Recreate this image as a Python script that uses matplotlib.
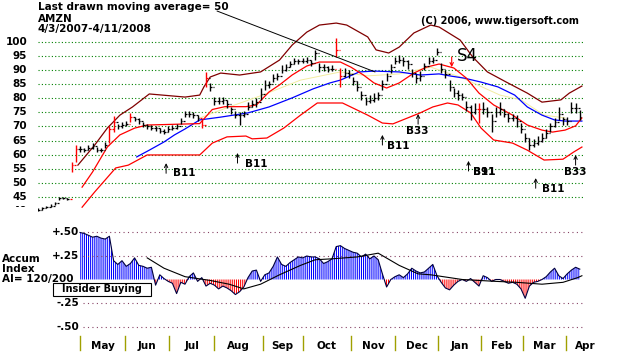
import matplotlib
matplotlib.use('Agg')
import matplotlib.pyplot as plt
from matplotlib.patches import Rectangle
import numpy as np

plt.rcParams['font.family'] = 'DejaVu Sans'
plt.rcParams['hatch.linewidth'] = 0.75

# ---- price bars: one bar every second trading day from 4/3/2007 ----
bar_day = list(range(0, 260, 2))
bar_close = [40.5, 41.0, 41.5, 42.0, 42.8, 44.5, 44.6, 44.2, 56.5, 62.0,
             62.0, 61.5, 62.5, 63.0, 61.8, 61.5, 63.5, 69.0, 71.5, 70.0,
             70.5, 71.0, 73.5, 72.5, 72.0, 70.5, 70.0, 69.5, 69.5, 68.5,
             68.0, 69.0, 69.5, 70.0, 72.0, 74.5, 74.5, 74.0, 73.0, 70.5,
             87.0, 84.0, 79.0, 79.0, 79.5, 78.0, 76.0, 74.0, 74.0, 74.5,
             77.0, 78.0, 78.5, 81.5, 84.5, 85.0, 87.0, 88.0, 90.0, 91.0,
             92.0, 93.0, 93.0, 93.0, 93.5, 92.5, 96.0, 91.0, 91.0, 90.5,
             90.5, 97.0, 88.0, 89.0, 88.5, 86.0, 84.0, 81.0, 79.0, 79.5,
             80.0, 81.0, 85.0, 88.0, 91.0, 93.0, 93.5, 93.0, 92.0, 89.0,
             87.0, 88.0, 91.5, 93.0, 93.5, 96.5, 90.5, 88.5, 84.0, 82.0,
             81.0, 80.5, 77.0, 75.0, 76.0, 76.0, 76.0, 75.0, 72.0, 75.0,
             76.0, 74.5, 73.0, 73.0, 72.0, 69.0, 66.0, 63.5, 64.0, 65.0,
             66.0, 67.5, 70.0, 71.5, 74.5, 72.5, 72.0, 76.5, 76.5, 73.5]
bar_high = [41.2, 41.5, 42.0, 42.5, 43.2, 45.0, 45.0, 44.7, 57.5, 63.4,
            63.0, 62.5, 63.5, 64.0, 62.8, 62.5, 64.5, 70.0, 73.7, 71.0,
            71.5, 72.0, 74.7, 73.5, 73.0, 71.5, 71.0, 70.5, 70.3, 69.5,
            69.0, 70.0, 70.5, 71.0, 73.0, 75.5, 75.3, 75.0, 74.0, 72.3,
            89.4, 85.5, 80.5, 80.4, 80.5, 79.4, 77.0, 75.5, 75.0, 75.5,
            78.6, 79.5, 80.0, 83.6, 86.4, 86.0, 88.5, 89.0, 91.7, 92.0,
            93.0, 94.2, 94.0, 94.2, 94.5, 93.5, 97.0, 92.4, 92.0, 91.5,
            91.8, 101.3, 90.7, 90.7, 90.0, 87.5, 86.0, 82.5, 80.5, 81.0,
            81.8, 82.2, 86.5, 89.0, 92.0, 94.5, 95.3, 94.6, 93.5, 90.5,
            88.5, 89.5, 92.5, 94.6, 94.5, 97.7, 92.4, 90.0, 86.4, 83.5,
            82.9, 81.8, 79.0, 77.5, 78.3, 78.3, 78.6, 76.8, 74.5, 76.8,
            78.6, 76.0, 74.8, 74.5, 74.0, 71.2, 67.7, 66.0, 65.5, 66.5,
            67.7, 69.0, 71.2, 73.0, 76.8, 73.5, 73.3, 78.6, 78.3, 75.8]
bar_low = [40.0, 40.5, 41.0, 41.5, 42.3, 43.8, 44.2, 43.8, 54.0, 57.5,
           61.0, 60.8, 61.5, 62.0, 61.0, 60.8, 62.5, 64.0, 68.0, 69.0,
           69.5, 70.0, 71.5, 71.8, 71.0, 69.8, 69.0, 68.8, 68.5, 67.8,
           67.3, 68.2, 68.8, 69.2, 71.0, 73.5, 73.5, 73.0, 72.0, 69.5,
           84.0, 82.5, 77.5, 77.8, 78.0, 76.5, 74.5, 73.0, 70.5, 73.3,
           75.8, 77.0, 77.0, 79.5, 83.0, 83.5, 85.7, 86.5, 89.0, 89.5,
           91.0, 92.0, 92.0, 92.4, 92.5, 91.5, 93.5, 89.3, 89.5, 89.3,
           89.5, 94.6, 84.0, 87.5, 87.0, 84.5, 82.5, 79.5, 77.6, 78.3,
           78.6, 79.5, 83.0, 86.0, 89.0, 92.0, 92.5, 91.5, 90.5, 87.5,
           85.4, 86.0, 90.0, 92.0, 92.5, 95.3, 89.0, 87.1, 82.5, 80.4,
           79.4, 79.4, 75.5, 72.3, 74.5, 71.2, 74.5, 73.3, 68.0, 73.3,
           74.0, 73.3, 71.6, 71.8, 69.8, 67.7, 64.5, 61.6, 62.8, 63.5,
           64.5, 65.9, 68.0, 69.8, 72.3, 70.5, 70.5, 74.8, 74.8, 72.3]
red_bar_days = [16, 18, 34, 36, 44, 78, 80, 142, 144, 210]

# ---- bands and moving averages ----
maroon_day = [19, 27, 33, 39, 45, 53, 70, 77, 79, 82, 87, 96, 106, 115, 121,
              128, 134, 142, 147, 157, 161, 167, 172, 179, 187, 191, 201, 207,
              214, 223, 233, 240, 249, 253, 259]
maroon_val = [56.3, 63.4, 69.4, 74.0, 76.9, 81.5, 80.4, 81.1, 84.0, 87.5, 88.9,
              88.2, 89.3, 93.5, 98.8, 103.4, 105.9, 106.6, 105.9, 101.7, 97.1,
              96.0, 98.1, 103.1, 105.9, 105.2, 100.6, 94.6, 89.3, 85.7, 81.8,
              78.6, 79.4, 81.8, 84.3]
red_a_day = [21, 26, 33, 39, 46, 52, 77, 83, 89, 99, 104, 110, 115, 121, 128,
             134, 144, 149, 155, 160, 166, 172, 179, 185, 191, 198, 204, 210,
             217, 226, 233, 240, 245, 251, 256, 259]
red_a_val = [48.5, 53.9, 62.7, 67.0, 69.4, 70.5, 71.0, 76.0, 77.0, 77.0, 77.6,
             82.2, 84.7, 88.2, 91.4, 92.8, 92.8, 91.0, 88.2, 85.4, 83.6, 85.4,
             88.9, 91.0, 92.1, 90.7, 87.1, 81.8, 77.6, 74.0, 70.5, 68.7, 68.0,
             68.7, 70.2, 73.0]
red_b_day = [21, 27, 37, 43, 52, 77, 83, 90, 99, 102, 109, 117, 125, 133, 145,
             157, 164, 169, 177, 182, 188, 195, 200, 206, 211, 217, 226, 233,
             241, 250, 255, 259]
red_b_val = [41.4, 46.8, 55.3, 56.3, 59.9, 59.9, 64.1, 66.3, 66.6, 65.6, 65.9,
             69.4, 74.0, 78.3, 78.3, 74.0, 71.2, 70.9, 73.3, 74.8, 76.9, 78.3,
             77.6, 74.8, 69.4, 65.2, 64.1, 61.6, 58.1, 58.4, 60.9, 62.7]
ma50_day = [47, 53, 60, 65, 70, 77, 87, 100, 110, 121, 131, 139, 144, 153, 160,
            172, 182, 191, 196, 203, 211, 219, 227, 233, 240, 246, 251, 259]
ma50_val = [59.2, 61.6, 64.5, 67.0, 69.1, 72.3, 73.3, 74.8, 76.9, 80.1, 83.3,
            85.4, 86.4, 89.3, 89.6, 89.3, 88.2, 88.6, 87.9, 87.1, 85.7, 84.0,
            81.1, 76.9, 74.0, 72.3, 71.9, 71.9]
yellow_day = [77, 91, 107, 125, 144, 157, 172, 187, 201, 220, 230, 241, 251]
yellow_val = [73.0, 76.9, 81.1, 86.4, 89.3, 87.9, 88.6, 91.0, 87.5, 81.1, 79.4,
              74.0, 73.0]

# ---- buy / sell signals ----
sig_day = [61, 95, 164, 181, 205, 237, 256]
sig_top = [57.0, 60.6, 67.0, 74.4, 57.8, 51.7, 59.9]
sig_label = ['B11', 'B11', 'B11', 'B33', 'B91', 'B11', 'B33']
sig_text_off = [(7, -10), (7, -11), (5, -11), (-12, -17), (5, -11), (6, -11), (-12, -17)]

# ---- accumulation index ----
ai_day = list(range(20, 260, 2))
ai_val = [0.50, 0.49, 0.47, 0.45, 0.46, 0.44, 0.43, 0.46, 0.20, 0.16,
          0.20, 0.14, 0.17, 0.23, 0.15, 0.14, 0.12, 0.13, -0.06, 0.05,
          0.01, -0.02, -0.04, -0.15, -0.03, -0.05, 0.03, 0.07, -0.02, 0.02,
          -0.07, -0.04, -0.06, -0.10, -0.07, -0.09, -0.12, -0.16, -0.13, -0.08,
          0.02, 0.09, 0.10, -0.02, 0.05, 0.07, 0.14, 0.24, 0.16, 0.14,
          0.18, 0.21, 0.24, 0.23, 0.25, 0.24, 0.24, 0.22, 0.17, 0.19,
          0.22, 0.35, 0.36, 0.33, 0.31, 0.29, 0.28, 0.24, 0.27, 0.22,
          0.25, 0.21, 0.06, -0.08, 0.00, 0.03, 0.05, 0.02, 0.06, 0.12,
          0.09, 0.07, 0.08, 0.12, 0.16, 0.04, -0.03, -0.09, -0.11, -0.06,
          -0.02, 0.00, -0.02, 0.01, -0.03, -0.07, 0.04, 0.02, -0.02, 0.00,
          0.00, -0.02, -0.04, -0.03, -0.05, -0.10, -0.20, -0.07, -0.03, -0.02,
          0.00, 0.03, 0.08, 0.12, 0.04, 0.01, 0.06, 0.10, 0.13, 0.11]
ai_ma_day = [52, 60, 70, 82, 91, 98, 106, 115, 125, 132, 140, 152, 162, 172,
             181, 187, 202, 218, 228, 240, 250, 257, 259]
ai_ma_val = [0.23, 0.12, 0.03, -0.01, -0.05, -0.10, -0.05, 0.05, 0.15, 0.21,
             0.22, 0.24, 0.28, 0.15, 0.06, 0.05, 0.00, -0.02, -0.03, -0.05,
             -0.03, 0.02, 0.04]

price_levels = [100, 95, 90, 85, 80, 75, 70, 65, 60, 55, 50, 45, 40]
ai_levels = [0.5, 0.25, -0.25, -0.5]
ai_level_labels = ['+.50', '+.25', '-.25', '-.50']
month_tick_day = [20, 41.5, 62.5, 84, 107, 126, 149, 170, 190.5, 211, 231, 251.5]
month_names = ['May', 'Jun', 'Jul', 'Aug', 'Sep', 'Oct', 'Nov', 'Dec',
               'Jan', 'Feb', 'Mar', 'Apr']

W, H = 631, 354
BOLD = dict(fontweight='bold', color='black')

fig = plt.figure(figsize=(W / 100, H / 100), dpi=100, facecolor='white')

ax = fig.add_axes([38 / W, 1 - 212 / H, 546 / W, 212 / H])
ax.set_xlim(0, 260)
ax.set_ylim(39.7, 114.77)
ax.axis('off')

ax.hlines(price_levels[:-1], 0, 259.5, colors='#008000',
          linestyles=(0, (1, 2)), lw=0.8, zorder=1)
for lvl in price_levels:
    ax.text(-5.2, lvl, str(lvl), ha='right', va='center', fontsize=7.5,
            clip_on=False, **BOLD)

# bands
ax.plot(maroon_day, maroon_val, color='#800000', lw=0.9, zorder=2)
ax.plot(yellow_day, yellow_val, color='#f2eca0', lw=0.7, zorder=2)
ax.plot(ma50_day, ma50_val, color='#0000ff', lw=0.9, zorder=2)
ax.plot(red_a_day, red_a_val, color='#ff0000', lw=0.9, zorder=2)
ax.plot(red_b_day, red_b_val, color='#ff0000', lw=0.9, zorder=2)

# price bars
cols = ['#ff0000' if d in red_bar_days else 'black' for d in bar_day]
opens = [bar_close[0]] + bar_close[:-1]
days = np.array(bar_day, dtype=float)
ax.vlines(days, bar_low, bar_high, colors=cols, lw=1.0, zorder=3)
ax.hlines(bar_close, days, days + 0.8, colors=cols, lw=0.9, zorder=3)
ax.hlines(opens, days - 0.8, days, colors=cols, lw=0.9, zorder=3)

# signals
for d, top, lab, off in zip(sig_day, sig_top, sig_label, sig_text_off):
    ax.annotate('', xy=(d, top), xytext=(d, top - 3.6),
                arrowprops=dict(arrowstyle='->', lw=0.7, color='black',
                                shrinkA=0, shrinkB=0, mutation_scale=6))
    ax.annotate(lab, xy=(d, top), xytext=off, textcoords='offset pixels',
                ha='left', va='center', fontsize=7.5, **BOLD)
    if lab == 'B91':
        ax.annotate('B11', xy=(d, top), xytext=off, textcoords='offset pixels',
                    ha='left', va='center', fontsize=7.5, **BOLD)

ax.text(199.5, 94.9, 'S4', fontsize=12, ha='left', va='center', color='black')
ax.annotate('', xy=(197, 91.0), xytext=(197, 94.6),
            arrowprops=dict(arrowstyle='->', lw=0.8, color='#ff0000',
                            shrinkA=0, shrinkB=0, mutation_scale=6))

# pointer from caption to the 50-day average
ax.annotate('', xy=(160.5, 89.3), xytext=(217 / W, 1 - 11 / H),
            textcoords='figure fraction',
            arrowprops=dict(arrowstyle='-', lw=0.7, color='black',
                            shrinkA=0, shrinkB=0))

fig.text(38 / W, 1 - 7 / H, 'Last drawn moving average= 50', fontsize=7.5,
         va='center', **BOLD)
fig.text(38 / W, 1 - 19.5 / H, 'AMZN', fontsize=7.5, va='center', **BOLD)
fig.text(38 / W, 1 - 29 / H, '4/3/2007-4/11/2008', fontsize=7.5, va='center', **BOLD)
fig.text(421 / W, 1 - 21 / H, '(C) 2006, www.tigersoft.com', fontsize=7,
         va='center', **BOLD)

# the "40" label is cut off by the lower panel
fig.add_artist(Rectangle((0, 1 - 226 / H), 37 / W, 19 / H, transform=fig.transFigure,
                         facecolor='white', edgecolor='none', zorder=10))

# ---- accumulation index panel ----
ax2 = fig.add_axes([38 / W, 1 - 333 / H, 546 / W, 107 / H])
ax2.set_xlim(0, 260)
ax2.set_ylim(-0.569, 0.569)
ax2.axis('off')

ax2.hlines(ai_levels, 21.4, 259.5, colors='#884466', linestyles=(0, (1, 3)), lw=0.8)
for v, lab in zip(ai_levels, ai_level_labels):
    ax2.text(19.5, v, lab, ha='right', va='center', fontsize=7.5, **BOLD)

a_day = np.array(ai_day, dtype=float)
a_val = np.array(ai_val)
ax2.fill_between(a_day, a_val, 0, where=a_val >= 0, interpolate=True,
                 facecolor='white', edgecolor='#0000ff', hatch='|' * 8, lw=0)
ax2.fill_between(a_day, a_val, 0, where=a_val <= 0, interpolate=True,
                 facecolor='white', edgecolor='#ff0000', hatch='|' * 8, lw=0)
ax2.plot(a_day, a_val, color='#000040', lw=0.8)
ax2.plot(ai_ma_day, ai_ma_val, color='black', lw=0.8)

xt = ax2.get_xaxis_transform()
for d in month_tick_day:
    ax2.plot([d, d], [-0.028, -0.16], transform=xt, color='#a0a000', lw=1,
             clip_on=False)
label_pos = [(a + b) / 2 for a, b in zip(month_tick_day[:-1], month_tick_day[1:])]
label_pos.append(month_tick_day[-1] + 9)
for p, name in zip(label_pos, month_names):
    ax2.text(p, -0.12, name, transform=xt, ha='center', va='center',
             fontsize=7.5, **BOLD)

fig.text(2 / W, 1 - 259 / H, 'Accum', fontsize=7.5, va='center', **BOLD)
fig.text(2 / W, 1 - 269 / H, 'Index', fontsize=7.5, va='center', **BOLD)
fig.text(2 / W, 1 - 279 / H, 'AI= 120/200', fontsize=7.5, va='center', **BOLD)

fig.add_artist(Rectangle((53 / W, 1 - 296 / H), 98 / W, 13 / H,
                         transform=fig.transFigure, facecolor='white',
                         edgecolor='black', lw=0.8, zorder=10))
fig.text(102 / W, 1 - 289.5 / H, 'Insider Buying', fontsize=7, ha='center',
         va='center', zorder=11, **BOLD)

fig.savefig('out.png', dpi=100)
